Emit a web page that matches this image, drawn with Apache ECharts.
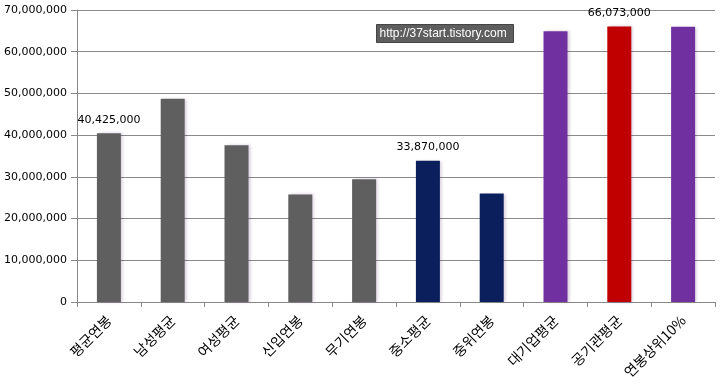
<!DOCTYPE html>
<html><head><meta charset="utf-8">
<script src="https://cdn.jsdelivr.net/npm/echarts@6/dist/echarts.min.js"></script>
<style>html,body{margin:0;padding:0;background:#fff}#c{width:720px;height:384px}</style>
</head><body><div id="c"></div>
<script>
const categories = ['평균연봉','남성평균','여성평균','신입연봉','무기연봉','중소평균','중위연봉','대기업평균','공기관평균','연봉상위10%'];
const values = [40425000, 48700000, 37600000, 25800000, 29400000, 33870000, 26000000, 64900000, 66073000, 66000000];
const barColors = ['#5f5f5f','#5f5f5f','#5f5f5f','#5f5f5f','#5f5f5f','#0a1f5c','#0a1f5c','#7030a0','#c00000','#7030a0'];
const labeledIdx = [0, 5, 8];
const yTicks = [0, 10000000, 20000000, 30000000, 40000000, 50000000, 60000000, 70000000];
const watermark = 'http://37start.tistory.com';

const fmt = v => v.toString().replace(/\B(?=(\d{3})+(?!\d))/g, ',');
const chart = echarts.init(document.getElementById('c'));
chart.setOption({
  animation: false,
  grid: {left: 77, right: 5, top: 10, bottom: 82},
  xAxis: {
    type: 'category', data: categories, boundaryGap: true,
    axisLine: {lineStyle: {color: '#888', width: 1}},
    axisTick: {show: true, alignWithLabel: false, length: 5, lineStyle: {color: '#888'}},
    axisLabel: {rotate: 45, interval: 0, color: '#000', fontSize: 14, fontFamily: 'Noto Sans CJK KR', margin: 16}
  },
  yAxis: {
    type: 'value', min: yTicks[0], max: yTicks[yTicks.length-1], interval: 10000000,
    axisLine: {show: true, lineStyle: {color: '#888'}},
    axisTick: {show: true, length: 6, lineStyle: {color: '#888'}},
    axisLabel: {color: '#000', fontSize: 11, fontFamily: 'DejaVu Sans', margin: 10, formatter: v => fmt(v)},
    splitLine: {lineStyle: {color: '#8a8a8a', width: 1}}
  },
  series: [{
    type: 'bar', barWidth: 24,
    data: values.map((v, i) => ({
      value: v,
      itemStyle: {color: barColors[i], shadowColor: 'rgba(60,0,80,0.2)', shadowBlur: 3, shadowOffsetX: 2, shadowOffsetY: 0},
      label: {show: labeledIdx.includes(i), position: 'top', distance: 8, color: '#000', fontSize: 11, fontFamily: 'DejaVu Sans', formatter: p => fmt(p.value)}
    }))
  }],
  graphic: [{
    type: 'group', left: 376, top: 24,
    children: [
      {type: 'rect', shape: {x: 0, y: 0, width: 137, height: 18}, style: {fill: '#5e5e5e', stroke: '#444', lineWidth: 1}},
      {type: 'text', style: {x: 3, y: 9, text: watermark, fill: '#fff', font: '12px "Liberation Sans"', textVerticalAlign: 'middle'}}
    ]
  }]
});
</script></body></html>
